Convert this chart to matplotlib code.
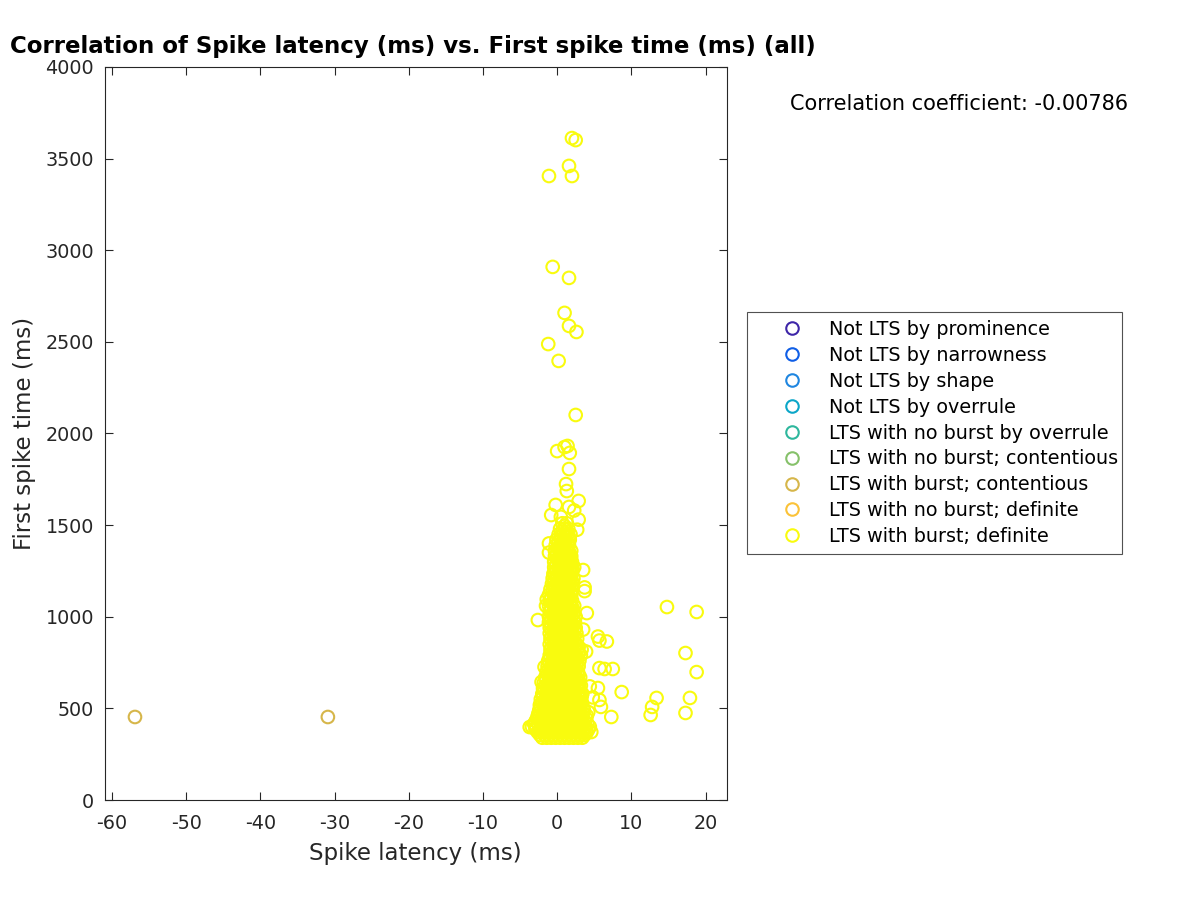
import matplotlib
matplotlib.use("Agg")
import matplotlib.pyplot as plt
from matplotlib.lines import Line2D

# ---------------- data ----------------
class_names = [
    "Not LTS by prominence",
    "Not LTS by narrowness",
    "Not LTS by shape",
    "Not LTS by overrule",
    "LTS with no burst by overrule",
    "LTS with no burst; contentious",
    "LTS with burst; contentious",
    "LTS with no burst; definite",
    "LTS with burst; definite",
]
class_colors = [
    "#3e26a8", "#0f5ee6", "#1f86e0", "#0ba6c8", "#2eb79d",
    "#86c16a", "#d6b64a", "#fbc238", "#f9fb0e",
]

# LTS with burst; contentious
contentious_x = [-56.9, -30.9]
contentious_y = [453, 453]

# LTS with burst; definite -- scattered points
definite_x = [2.0, 2.5, 1.6, -1.1, 2.0, -0.6, 1.6, 1.0, 1.6, 2.6, -1.2, 0.2,
              2.5, 0.0, 1.0, 1.4, 1.7, 1.6, 1.2, 1.3, 2.9, -0.2, -0.8, 1.6,
              2.9, 2.7, -1.1, 3.5, -1.1, 3.7, 3.7, -1.4, -1.5, 4.0, -2.6, 3.5,
              5.7, 6.7, 5.5, 3.9, 5.7, 6.4, 7.5, 5.5, 5.7, 5.9, 4.4, 4.8,
              -3.7, -2.3, -2.1, -1.7, 3.7, 4.6, 8.7, 7.3,
              14.8, 18.8, 17.3, 18.8, 17.9, 17.3, 13.4, 12.8, 12.6,
              -3.0, -2.9, 4.2, 2.3, 0.5, -0.5]
definite_y = [3612, 3601, 3460, 3405, 3405, 2909, 2849, 2658, 2587, 2554, 2488, 2396,
              2101, 1904, 1926, 1932, 1894, 1806, 1724, 1686, 1632, 1610, 1555, 1599,
              1530, 1475, 1400, 1255, 1350, 1160, 1140, 1095, 1060, 1020, 982, 930,
              870, 865, 892, 810, 720, 715, 715, 611, 546, 508, 620, 560,
              398, 518, 644, 726, 366, 371, 589, 453,
              1053, 1026, 802, 698, 557, 475, 557, 508, 464,
              410, 390, 480, 1580, 1545, 1235]

# LTS with burst; definite -- dense core, row by row
core_rows_y = [340, 370, 400, 430, 460, 490, 520, 550, 580, 610, 640, 670, 700,
               730, 760, 790, 820, 850, 880, 910, 940, 970, 1000, 1030, 1060,
               1090, 1120, 1150, 1180, 1210, 1240, 1270, 1300, 1330, 1360, 1390,
               1420, 1450, 1480, 1510]
core_rows_x = [
    [-2.0, -1.4, -0.8, -0.2, 0.4, 1.0, 1.6, 2.2, 2.8, 3.4],
    [-2.6, -2.0, -1.4, -0.8, -0.2, 0.4, 1.0, 1.6, 2.2, 2.8, 3.4, 4.0],
    [-3.4, -2.8, -2.2, -1.6, -1.0, -0.4, 0.2, 0.8, 1.4, 2.0, 2.6, 3.2, 3.8, 4.4],
    [-2.9, -2.3, -1.7, -1.1, -0.5, 0.1, 0.7, 1.3, 1.9, 2.5, 3.1, 3.7],
    [-2.6, -2.0, -1.4, -0.8, -0.2, 0.4, 1.0, 1.6, 2.2, 2.8, 3.4, 4.0],
    [-2.4, -1.8, -1.2, -0.6, 0.0, 0.6, 1.2, 1.8, 2.4, 3.0, 3.6],
    [-2.3, -1.7, -1.1, -0.5, 0.1, 0.7, 1.3, 1.9, 2.5, 3.1],
    [-2.2, -1.6, -1.0, -0.4, 0.2, 0.8, 1.4, 2.0, 2.6, 3.2],
    [-2.0, -1.4, -0.8, -0.2, 0.4, 1.0, 1.6, 2.2, 2.8, 3.4],
    [-1.9, -1.3, -0.7, -0.1, 0.5, 1.1, 1.7, 2.3, 2.9],
    [-1.8, -1.2, -0.6, 0.0, 0.6, 1.2, 1.8, 2.4, 3.0],
    [-1.6, -1.0, -0.4, 0.2, 0.8, 1.4, 2.0, 2.6, 3.1],
    [-1.4, -0.8, -0.2, 0.4, 1.0, 1.6, 2.2, 2.8],
    [-1.3, -0.7, -0.1, 0.5, 1.1, 1.7, 2.3, 2.9],
    [-1.2, -0.6, 0.0, 0.6, 1.2, 1.8, 2.4, 3.0],
    [-1.0, -0.4, 0.2, 0.8, 1.4, 2.0, 2.6, 3.2],
    [-0.9, -0.3, 0.3, 0.9, 1.5, 2.1, 2.7, 3.3],
    [-1.0, -0.4, 0.2, 0.8, 1.4, 2.0, 2.6],
    [-0.9, -0.3, 0.3, 0.9, 1.5, 2.1, 2.7],
    [-1.0, -0.4, 0.2, 0.8, 1.4, 2.0, 2.6],
    [-1.0, -0.4, 0.2, 0.8, 1.4, 2.0, 2.5],
    [-1.1, -0.5, 0.1, 0.7, 1.3, 1.9, 2.4],
    [-1.1, -0.5, 0.1, 0.7, 1.3, 1.9, 2.5],
    [-1.0, -0.4, 0.2, 0.8, 1.4, 2.0],
    [-1.1, -0.5, 0.1, 0.7, 1.3, 1.9, 2.3],
    [-1.0, -0.4, 0.2, 0.8, 1.4, 2.0],
    [-1.1, -0.5, 0.1, 0.7, 1.3, 1.9],
    [-0.9, -0.3, 0.3, 0.9, 1.5, 2.0],
    [-0.7, -0.1, 0.5, 1.1, 1.7, 2.1],
    [-0.6, 0.0, 0.6, 1.2, 1.8, 2.2],
    [-0.4, 0.2, 0.8, 1.4, 2.0],
    [-0.4, 0.2, 0.8, 1.4, 2.0, 2.3],
    [-0.4, 0.2, 0.8, 1.4, 2.0],
    [-0.3, 0.3, 0.9, 1.5, 1.9],
    [-0.3, 0.3, 0.9, 1.5, 1.9],
    [-0.2, 0.4, 1.0, 1.6],
    [-0.1, 0.5, 1.1, 1.7],
    [0.2, 0.8, 1.4, 1.8],
    [0.4, 1.0, 1.5],
    [0.7, 1.3],
]

# staggered in-between rows of the dense core
core2_rows_y = [355, 385, 415, 445, 475, 505, 535, 565, 595, 625, 655, 685, 715,
                745, 775, 805, 835, 865, 895, 925, 955, 985, 1015, 1045, 1075,
                1105, 1135, 1165, 1195, 1225, 1255, 1285, 1315, 1345, 1375, 1405,
                1435, 1465, 1495]
core2_rows_x = [
    [-2.3, -1.7, -1.1, -0.5, 0.1, 0.7, 1.3, 1.9, 2.5, 3.1, 3.7],
    [-2.9, -2.3, -1.7, -1.1, -0.5, 0.1, 0.7, 1.3, 1.9, 2.5, 3.1, 3.7, 4.2],
    [-3.1, -2.5, -1.9, -1.3, -0.7, -0.1, 0.5, 1.1, 1.7, 2.3, 2.9, 3.5, 4.1],
    [-2.7, -2.1, -1.5, -0.9, -0.3, 0.3, 0.9, 1.5, 2.1, 2.7, 3.3, 3.9],
    [-2.5, -1.9, -1.3, -0.7, -0.1, 0.5, 1.1, 1.7, 2.3, 2.9, 3.5],
    [-2.3, -1.7, -1.1, -0.5, 0.1, 0.7, 1.3, 1.9, 2.5, 3.1, 3.5],
    [-2.0, -1.4, -0.8, -0.2, 0.4, 1.0, 1.6, 2.2, 2.8, 3.3],
    [-1.9, -1.3, -0.7, -0.1, 0.5, 1.1, 1.7, 2.3, 2.9, 3.3],
    [-1.7, -1.1, -0.5, 0.1, 0.7, 1.3, 1.9, 2.5, 3.1],
    [-1.5, -0.9, -0.3, 0.3, 0.9, 1.5, 2.1, 2.7, 3.2],
    [-1.5, -0.9, -0.3, 0.3, 0.9, 1.5, 2.1, 2.7],
    [-1.3, -0.7, -0.1, 0.5, 1.1, 1.7, 2.3, 2.9],
    [-1.1, -0.5, 0.1, 0.7, 1.3, 1.9, 2.5],
    [-1.0, -0.4, 0.2, 0.8, 1.4, 2.0, 2.6],
    [-0.9, -0.3, 0.3, 0.9, 1.5, 2.1, 2.7],
    [-0.7, -0.1, 0.5, 1.1, 1.7, 2.3, 2.9],
    [-0.7, -0.1, 0.5, 1.1, 1.7, 2.3, 2.9],
    [-0.7, -0.1, 0.5, 1.1, 1.7, 2.3],
    [-0.7, -0.1, 0.5, 1.1, 1.7, 2.3],
    [-0.7, -0.1, 0.5, 1.1, 1.7, 2.3],
    [-0.8, -0.2, 0.4, 1.0, 1.6, 2.2],
    [-0.8, -0.2, 0.4, 1.0, 1.6, 2.2],
    [-0.7, -0.1, 0.5, 1.1, 1.7, 2.2],
    [-0.8, -0.2, 0.4, 1.0, 1.6, 2.1],
    [-0.7, -0.1, 0.5, 1.1, 1.7],
    [-0.8, -0.2, 0.4, 1.0, 1.6],
    [-0.6, 0.0, 0.6, 1.2, 1.8],
    [-0.4, 0.2, 0.8, 1.4, 1.9],
    [-0.3, 0.3, 0.9, 1.5, 2.0],
    [-0.1, 0.5, 1.1, 1.7],
    [-0.1, 0.5, 1.1, 1.7, 2.1],
    [-0.1, 0.5, 1.1, 1.7],
    [0.0, 0.6, 1.2, 1.7],
    [0.0, 0.6, 1.2, 1.7],
    [0.1, 0.7, 1.3],
    [0.2, 0.8, 1.4],
    [0.5, 1.1, 1.6],
    [0.7, 1.3],
    [1.0],
]

x_ticks = [-60, -50, -40, -30, -20, -10, 0, 10, 20]
y_ticks = [0, 500, 1000, 1500, 2000, 2500, 3000, 3500, 4000]
corr_text = "Correlation coefficient: -0.00786"

# ---------------- plot ----------------
plt.rcParams["font.family"] = ["DejaVu Sans"]
fig = plt.figure(figsize=(12, 9), dpi=100)
ax = fig.add_axes([0.0875, 0.1111, 0.518, 0.8145])

core_x = []
core_y = []
for rows_y, rows_x in ((core_rows_y, core_rows_x), (core2_rows_y, core2_rows_x)):
    for yy, row in zip(rows_y, rows_x):
        for xx in row:
            core_x.append(xx)
            core_y.append(yy)

ms = 82
lw = 1.5
ax.scatter(core_x, core_y, s=ms, facecolors="none", edgecolors=class_colors[8], linewidths=lw)
ax.scatter(definite_x, definite_y, s=ms, facecolors="none", edgecolors=class_colors[8], linewidths=lw)
ax.scatter(contentious_x, contentious_y, s=ms, facecolors="none", edgecolors=class_colors[6], linewidths=lw)

ax.set_xlim(-60.94, 22.84)
ax.set_ylim(0, 4000)
ax.set_xticks(x_ticks)
ax.set_xticklabels([str(v) for v in x_ticks])
ax.set_yticks(y_ticks)
ax.set_yticklabels([str(v) for v in y_ticks])
axc = "#262626"
ax.tick_params(direction="in", length=6, width=0.8, top=True, right=True,
               labelsize=13.8, colors=axc)
ax.tick_params(axis="x", pad=10)
ax.tick_params(axis="y", pad=8)
for sp in ax.spines.values():
    sp.set_color(axc)
    sp.set_linewidth(0.8)
ax.set_xlabel("Spike latency (ms)", fontsize=16.5, color=axc, labelpad=6.5)
ax.set_ylabel("First spike time (ms)", fontsize=16.5, color=axc, labelpad=7)

fig.text(10 / 1200, 1 - 47 / 900, "Correlation of Spike latency (ms) vs. First spike time (ms) (all)",
         fontsize=16.5, fontweight="bold", ha="left", va="center", color="black")
fig.text(790 / 1200, 1 - 104 / 900, corr_text, fontsize=15, ha="left", va="center", color="black")

handles = [Line2D([], [], linestyle="none", marker="o", markersize=9,
                  markerfacecolor="none", markeredgecolor=c, markeredgewidth=1.5)
           for c in class_colors]
leg = fig.legend(handles, class_names, loc="upper left",
                 bbox_to_anchor=(747 / 1200, 1 - 312 / 900, 375 / 1200, 0.0),
                 mode="expand",
                 fontsize=13.75, frameon=True, fancybox=False, edgecolor=axc,
                 borderpad=0.42, labelspacing=0.36, handletextpad=-0.05,
                 handlelength=3.9, borderaxespad=0)
leg.get_frame().set_linewidth(0.8)

fig.savefig("out.png", dpi=100)
